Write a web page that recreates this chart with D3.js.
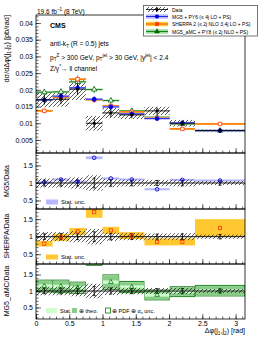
<!DOCTYPE html>
<html><head><meta charset="utf-8">
<script src="https://cdn.jsdelivr.net/npm/d3@7"></script>
<style>
body{margin:0;background:#fff;}
text{font-family:"Liberation Sans",Arial,sans-serif;fill:#000;}
</style></head><body>
<svg id="c" width="266" height="344"></svg>
<script>
// ---------- data ----------
const binEdges = [0, 0.25, 0.5, 0.75, 1.0, 1.25, 1.63, 2.01, 2.39, Math.PI];
const dataVals = [0.0170, 0.0172, 0.0202, 0.0100, 0.0131, 0.0125, 0.0137, 0.0100, 0.0078];
const dataStat = [0.0014, 0.0015, 0.0017, 0.0014, 0.0012, 0.0010, 0.0010, 0.0008, 0.0005];
const dataSystRel = [0.13, 0.13, 0.16, 0.22, 0.12, 0.10, 0.09, 0.10, 0.06];
const mg5Vals = [0.0170, 0.0181, 0.0206, 0.0172, 0.0149, 0.0128, 0.0114, 0.0101, 0.0078];
const sherpaVals = [0.0137, 0.0178, 0.0232, 0.0170, 0.0152, 0.0134, 0.0116, 0.0083, 0.0098];
const amcVals = [0.0193, 0.0194, 0.0224, 0.0201, 0.0168, 0.0137, 0.0118, 0.0098, 0.0078];
const mg5Ratio = [1.02, 1.10, 1.04, 1.72, 1.13, 1.10, 0.82, 1.09, 1.07];
const mg5RatioUnc = [0.03, 0.03, 0.03, 0.04, 0.03, 0.03, 0.03, 0.03, 0.03];
const sherpaRatio = [0.80, 0.98, 1.15, 1.70, 1.18, 1.03, 0.85, 0.85, 1.25];
const sherpaRatioUnc = [0.08, 0.1, 0.1, 0.16, 0.1, 0.1, 0.1, 0.1, 0.25];
const amcRatio = [1.15, 1.14, 1.10, 2.0, 1.27, 1.12, 0.88, 0.98, 1.01];
const amcStatUnc = [0.05, 0.05, 0.05, 0.08, 0.05, 0.05, 0.05, 0.05, 0.04];
const amcTheoUnc = [0.16, 0.17, 0.15, 0.2, 0.2, 0.15, 0.13, 0.13, 0.14];
const amcPdfUnc = [0.18, 0.19, 0.17, 0.22, 0.22, 0.17, 0.15, 0.15, 0.16];
const xTicks = [0, 0.5, 1, 1.5, 2, 2.5, 3];
const yTicksMain = [0.005, 0.01, 0.015, 0.02, 0.025, 0.03, 0.035, 0.04];
const ratioTicks = [0.5, 1, 1.5];
const legendLabels = ["Data", "MG5 + PY6 (\u2264 4j LO + PS)", "SHERPA 2 (\u2264 2j NLO 3,4j LO + PS)", "MG5_aMC + PY8 (\u2264 2j NLO + PS)"];

// ---------- colors ----------
const C = {blue:"#0000dd", blueBand:"#b8b8ff", red:"#ff3300", orangeBand:"#ffc830",
           green:"#006600", greenStat:"#ccffcc", greenTheo:"#88cc88", greenPdf:"#228822"};

const svg = d3.select("#c");
const defs = svg.append("defs");
const pat = defs.append("pattern").attr("id","hatch").attr("patternUnits","userSpaceOnUse")
  .attr("width",4).attr("height",4);
pat.append("path").attr("d","M-1,1 L1,-1 M0,4 L4,0 M3,5 L5,3").attr("stroke","#222").attr("stroke-width",0.75);

const L = 36, R = 245;
const x = d3.scaleLinear().domain([0, Math.PI]).range([L, R]);
const panels = {
  main: {top:15, bot:153},
  r1: {top:153, bot:209},
  r2: {top:209, bot:264},
  r3: {top:264, bot:319}
};
const yMain = d3.scaleLinear().domain([0.0011, 0.0424]).range([153, 15]);
const yR1 = d3.scaleLinear().domain([0.257, 1.857]).range([209, 153]);
const yR2 = d3.scaleLinear().domain([0.22, 1.79]).range([264, 209]);
const yR3 = d3.scaleLinear().domain([0.15, 1.82]).range([319, 264]);

const bins = d3.range(dataVals.length).map(i => ({i, lo:binEdges[i], hi:binEdges[i+1], c:(binEdges[i]+binEdges[i+1])/2}));

function clipFor(name, top, bot){
  defs.append("clipPath").attr("id","clip-"+name).append("rect").attr("x",L).attr("y",top).attr("width",R-L).attr("height",bot-top);
  return svg.append("g").attr("clip-path","url(#clip-"+name+")");
}

function drawYAxis(y, majors, minorStep, fmt){
  const g = svg.append("g");
  const dom = y.domain();
  const minors = d3.range(Math.ceil(dom[0]/minorStep)*minorStep, dom[1], minorStep);
  g.append("g").attr("transform",`translate(${L},0)`).call(d3.axisRight(y).tickValues(minors).tickSize(2.5).tickFormat(""));
  g.append("g").attr("transform",`translate(${L},0)`).call(d3.axisRight(y).tickValues(majors).tickSize(5).tickFormat(""));
  g.selectAll(".domain").remove();
  g.selectAll("line").attr("stroke","#000").attr("stroke-width",0.6);
  const gl = g.append("g").attr("transform",`translate(${L},0)`).call(d3.axisLeft(y).tickValues(majors).tickSize(0).tickPadding(3).tickFormat(fmt));
  gl.select(".domain").remove();
  gl.selectAll("text").attr("font-size",7).attr("font-family","Liberation Sans, Arial, sans-serif");
}
function drawXTicks(yPos){
  const g = svg.append("g").attr("transform",`translate(0,${yPos})`);
  const minors = d3.range(0, Math.PI, 0.1);
  g.append("g").call(d3.axisTop(x).tickValues(minors).tickSize(2.5).tickFormat(""));
  g.append("g").call(d3.axisTop(x).tickValues(xTicks).tickSize(5).tickFormat(""));
  g.selectAll(".domain").remove();
  g.selectAll("line").attr("stroke","#000").attr("stroke-width",0.6);
}

// ---------- MAIN PANEL ----------
const gm = clipFor("main", panels.main.top, panels.main.bot);
gm.selectAll(".hb").data(bins).join("rect")
  .attr("x", d=>x(d.lo)).attr("width", d=>x(d.hi)-x(d.lo))
  .attr("y", d=>yMain(dataVals[d.i]*(1+dataSystRel[d.i])))
  .attr("height", d=>yMain(dataVals[d.i]*(1-dataSystRel[d.i]))-yMain(dataVals[d.i]*(1+dataSystRel[d.i])))
  .attr("fill","url(#hatch)");
function mcMain(vals, color, band, marker, filled){
  gm.selectAll(null).data(bins).join("rect")
    .attr("x", d=>x(d.lo)).attr("width", d=>x(d.hi)-x(d.lo))
    .attr("y", d=>yMain(vals[d.i])-1).attr("height",2).attr("fill",band);
  gm.selectAll(null).data(bins).join("line")
    .attr("x1", d=>x(d.lo)).attr("x2", d=>x(d.hi))
    .attr("y1", d=>yMain(vals[d.i])).attr("y2", d=>yMain(vals[d.i]))
    .attr("stroke",color).attr("stroke-width",0.8);
  gm.selectAll(null).data(bins).join("line")
    .attr("x1", d=>x(d.c)).attr("x2", d=>x(d.c))
    .attr("y1", d=>yMain(vals[d.i]*1.05)).attr("y2", d=>yMain(vals[d.i]*0.95))
    .attr("stroke",color).attr("stroke-width",0.8);
  gm.selectAll(null).data(bins).join("path")
    .attr("transform", d=>`translate(${x(d.c)},${yMain(vals[d.i])})`)
    .attr("d", d3.symbol().type(marker).size(12)).attr("fill",filled?color:"#fff").attr("stroke",color).attr("stroke-width",0.8);
}
mcMain(amcVals, C.green, "#9fdf9f", d3.symbolTriangle, false);
mcMain(sherpaVals, C.red, C.orangeBand, d3.symbolSquare, false);
mcMain(mg5Vals, C.blue, C.blueBand, d3.symbolCircle, true);
gm.selectAll(".dx").data(bins).join("line")
  .attr("x1", d=>x(d.lo)).attr("x2", d=>x(d.hi))
  .attr("y1", d=>yMain(dataVals[d.i])).attr("y2", d=>yMain(dataVals[d.i]))
  .attr("stroke","#000").attr("stroke-width",0.9);
gm.selectAll(".dy").data(bins).join("line")
  .attr("x1", d=>x(d.c)).attr("x2", d=>x(d.c))
  .attr("y1", d=>yMain(dataVals[d.i]+dataStat[d.i])).attr("y2", d=>yMain(dataVals[d.i]-dataStat[d.i]))
  .attr("stroke","#000").attr("stroke-width",0.9);
gm.selectAll(".dp").data(bins).join("circle")
  .attr("cx", d=>x(d.c)).attr("cy", d=>yMain(dataVals[d.i])).attr("r",1.6).attr("fill","#000");

drawYAxis(yMain, yTicksMain, 0.001, d3.format(""));

// ---------- RATIO PANELS ----------
function dataBandRatio(g, y){
  g.selectAll(null).data(bins).join("rect")
    .attr("x", d=>x(d.lo)).attr("width", d=>x(d.hi)-x(d.lo))
    .attr("y", d=>y(1+dataSystRel[d.i])).attr("height", d=>y(1-dataSystRel[d.i])-y(1+dataSystRel[d.i]))
    .attr("fill","url(#hatch)");
  g.append("line").attr("x1",L).attr("x2",R).attr("y1",y(1)).attr("y2",y(1)).attr("stroke","#000").attr("stroke-width",0.9);
  g.selectAll(null).data(bins).join("line")
    .attr("x1", d=>x(d.c)).attr("x2", d=>x(d.c))
    .attr("y1", d=>y(1+dataStat[d.i]/dataVals[d.i])).attr("y2", d=>y(1-dataStat[d.i]/dataVals[d.i]))
    .attr("stroke","#000").attr("stroke-width",0.9);
  g.selectAll(null).data(bins).join("path")
    .attr("d", d=>{const xc=x(d.c), a=y(1+dataStat[d.i]/dataVals[d.i]), b=y(1-dataStat[d.i]/dataVals[d.i]);
      return `M${xc-1.5},${a}H${xc+1.5}M${xc-1.5},${b}H${xc+1.5}`;})
    .attr("stroke","#000").attr("stroke-width",0.8);
}
const g1 = clipFor("r1", panels.r1.top, panels.r1.bot);
g1.selectAll(null).data(bins).join("rect")
  .attr("x", d=>x(d.lo)).attr("width", d=>x(d.hi)-x(d.lo))
  .attr("y", d=>yR1(mg5Ratio[d.i]+mg5RatioUnc[d.i])).attr("height", d=>yR1(mg5Ratio[d.i]-mg5RatioUnc[d.i])-yR1(mg5Ratio[d.i]+mg5RatioUnc[d.i]))
  .attr("fill",C.blueBand);
dataBandRatio(g1, yR1);
g1.selectAll(null).data(bins).join("circle")
  .attr("cx", d=>x(d.c)).attr("cy", d=>yR1(mg5Ratio[d.i])).attr("r",1.8)
  .attr("fill","none").attr("stroke",C.blue).attr("stroke-width",0.9);
const g2 = clipFor("r2", panels.r2.top, panels.r2.bot);
g2.selectAll(null).data(bins).join("rect")
  .attr("x", d=>x(d.lo)).attr("width", d=>x(d.hi)-x(d.lo))
  .attr("y", d=>yR2(sherpaRatio[d.i]+sherpaRatioUnc[d.i])).attr("height", d=>yR2(sherpaRatio[d.i]-sherpaRatioUnc[d.i])-yR2(sherpaRatio[d.i]+sherpaRatioUnc[d.i]))
  .attr("fill",C.orangeBand);
dataBandRatio(g2, yR2);
g2.selectAll(null).data(bins).join("rect")
  .attr("x", d=>x(d.c)-1.6).attr("y", d=>yR2(sherpaRatio[d.i])-1.6).attr("width",3.2).attr("height",3.2)
  .attr("fill","none").attr("stroke",C.red).attr("stroke-width",0.8);
const g3 = clipFor("r3", panels.r3.top, panels.r3.bot);
function amcBox(unc, fill, stroke){
  g3.selectAll(null).data(bins).join("rect")
    .attr("x", d=>x(d.lo)+0.5).attr("width", d=>x(d.hi)-x(d.lo)-1)
    .attr("y", d=>yR3(amcRatio[d.i]+unc[d.i])).attr("height", d=>yR3(amcRatio[d.i]-unc[d.i])-yR3(amcRatio[d.i]+unc[d.i]))
    .attr("fill",fill).attr("stroke",stroke).attr("stroke-width",stroke==="none"?0:1);
}
amcBox(amcPdfUnc, "none", C.greenPdf);
amcBox(amcTheoUnc, C.greenTheo, "none");
amcBox(amcStatUnc, C.greenStat, "none");
dataBandRatio(g3, yR3);
g3.selectAll(null).data(bins).join("path")
  .attr("transform", d=>`translate(${x(d.c)},${yR3(amcRatio[d.i])})`)
  .attr("d", d3.symbol().type(d3.symbolTriangle).size(10)).attr("fill","none").attr("stroke",C.green).attr("stroke-width",0.7);

drawYAxis(yR1, ratioTicks, 0.1, d3.format(""));
drawYAxis(yR2, ratioTicks, 0.1, d3.format(""));
drawYAxis(yR3, ratioTicks, 0.1, d3.format(""));
[153, 209, 264, 319].forEach(drawXTicks);
svg.append("g").attr("transform","translate(0,319)").call(g=>{
  const gl = g.append("g").call(d3.axisBottom(x).tickValues(xTicks).tickSize(0).tickPadding(2).tickFormat(d3.format("")));
  gl.select(".domain").remove();
  gl.selectAll("text").attr("font-size",7).attr("font-family","Liberation Sans, Arial, sans-serif");
});

[panels.main, panels.r1, panels.r2, panels.r3].forEach(p=>{
  svg.append("rect").attr("x",L).attr("y",p.top).attr("width",R-L).attr("height",p.bot-p.top)
    .attr("fill","none").attr("stroke","#000").attr("stroke-width",0.8);
});

// ---------- texts ----------
const lumi = svg.append("text").attr("x",37).attr("y",13.5).attr("font-size",6.5);
lumi.append("tspan").text("19.6 fb");
lumi.append("tspan").attr("dy",-2.5).attr("font-size",4.6).text("\u22121");
lumi.append("tspan").attr("dy",2.5).text(" (8 TeV)");
svg.append("text").attr("x",50).attr("y",27.5).attr("font-size",7).attr("font-weight","bold").text("CMS");
const fs = 6.6, fss = 4.6;
const t1 = svg.append("text").attr("x",50).attr("y",46).attr("font-size",fs);
t1.append("tspan").text("anti-k");
t1.append("tspan").attr("dy",1.5).attr("font-size",fss).text("T");
t1.append("tspan").attr("dy",-1.5).text(" (R = 0.5) jets");
const t2 = svg.append("text").attr("x",50).attr("y",59.5).attr("font-size",fs);
t2.append("tspan").text("p");
t2.append("tspan").attr("dy",1.5).attr("font-size",fss).text("T");
t2.append("tspan").attr("dy",-3.8).attr("font-size",fss).text("Z");
t2.append("tspan").attr("dy",2.3).text(" > 300 GeV, p");
t2.append("tspan").attr("dy",1.5).attr("font-size",fss).text("T");
t2.append("tspan").attr("dy",-3.8).attr("font-size",fss).text("jet");
t2.append("tspan").attr("dy",2.3).text(" > 30 GeV, |y");
t2.append("tspan").attr("dy",-2.3).attr("font-size",fss).text("jet");
t2.append("tspan").attr("dy",2.3).text("| < 2.4");
const t3 = svg.append("text").attr("x",50).attr("y",70.5).attr("font-size",fs);
t3.append("tspan").text("Z/\u03b3");
t3.append("tspan").attr("dy",-2.3).attr("font-size",fss).text("*");
t3.append("tspan").attr("dy",2.3).text("\u2192 ll channel");

function yTitle(xPos, yPos, anchor, size){
  return svg.append("text").attr("transform",`translate(${xPos},${yPos}) rotate(-90)`).attr("text-anchor",anchor).attr("font-size",size);
}
const yt = yTitle(9, 15, "end", 7.4);
yt.append("tspan").text("d\u03c3/d\u0394\u03c6(j");
yt.append("tspan").attr("dy",1.5).attr("font-size",5).text("1");
yt.append("tspan").attr("dy",-1.5).text(",j");
yt.append("tspan").attr("dy",1.5).attr("font-size",5).text("2");
yt.append("tspan").attr("dy",-1.5).text(")  [pb/rad]");
yTitle(9,181,"middle",7).text("MG5/Data");
yTitle(9,236,"middle",7).text("SHERPA/Data");
yTitle(9,291,"middle",7).text("MG5_aMC/Data");
const xt = svg.append("text").attr("x",245).attr("y",333).attr("text-anchor","end").attr("font-size",7);
xt.append("tspan").text("\u0394\u03c6(j");
xt.append("tspan").attr("dy",1.5).attr("font-size",4.8).text("1");
xt.append("tspan").attr("dy",-1.5).text(",j");
xt.append("tspan").attr("dy",1.5).attr("font-size",4.8).text("2");
xt.append("tspan").attr("dy",-1.5).text(") [rad]");

svg.append("rect").attr("x",46).attr("y",199.5).attr("width",12).attr("height",5).attr("fill",C.blueBand);
svg.append("text").attr("x",61).attr("y",204).attr("font-size",5.8).text("Stat. unc.");
svg.append("rect").attr("x",46).attr("y",254.5).attr("width",12).attr("height",5).attr("fill",C.orangeBand);
svg.append("text").attr("x",61).attr("y",259).attr("font-size",5.8).text("Stat. unc.");
svg.append("rect").attr("x",46).attr("y",308).attr("width",11).attr("height",5).attr("fill",C.greenStat);
svg.append("text").attr("x",60).attr("y",312.5).attr("font-size",5.5).text("Stat.");
svg.append("rect").attr("x",72).attr("y",308).attr("width",5).attr("height",5).attr("fill",C.greenTheo);
svg.append("text").attr("x",79).attr("y",312.5).attr("font-size",5.5).text("\u2295 theo.");
svg.append("rect").attr("x",105.5).attr("y",308).attr("width",5).attr("height",5).attr("fill","#fff").attr("stroke",C.greenPdf).attr("stroke-width",0.9);
const tp = svg.append("text").attr("x",112).attr("y",312.5).attr("font-size",5.5);
tp.append("tspan").text("\u2295 PDF \u2295 \u03b1");
tp.append("tspan").attr("dy",1.2).attr("font-size",4).text("s");
tp.append("tspan").attr("dy",-1.2).text(" unc.");

const lg = svg.append("g");
lg.append("rect").attr("x",143.5).attr("y",5.5).attr("width",114).attr("height",30.5).attr("fill","#fff").attr("stroke","#555").attr("stroke-width",0.8);
const rowsY = [9.5, 16.5, 24, 31.5];
legendLabels.forEach((lab,i)=>{
  lg.append("text").attr("x",172).attr("y",rowsY[i]+2).attr("font-size",5).text(lab);
});
lg.append("rect").attr("x",146).attr("y",rowsY[0]-2.5).attr("width",22).attr("height",5).attr("fill","url(#hatch)");
lg.append("line").attr("x1",146).attr("x2",168).attr("y1",rowsY[0]).attr("y2",rowsY[0]).attr("stroke","#000").attr("stroke-width",0.8);
lg.append("line").attr("x1",157).attr("x2",157).attr("y1",rowsY[0]-2.5).attr("y2",rowsY[0]+2.5).attr("stroke","#000").attr("stroke-width",0.8);
lg.append("circle").attr("cx",157).attr("cy",rowsY[0]).attr("r",1.5).attr("fill","#000");
const mcLeg = [[C.blueBand,C.blue,d3.symbolCircle],[C.orangeBand,C.red,d3.symbolSquare],["#99dd99",C.green,d3.symbolTriangle]];
mcLeg.forEach((m,k)=>{
  const yy = rowsY[k+1];
  lg.append("rect").attr("x",146).attr("y",yy-2.2).attr("width",22).attr("height",4.4).attr("fill",m[0]);
  lg.append("line").attr("x1",146).attr("x2",168).attr("y1",yy).attr("y2",yy).attr("stroke",m[1]).attr("stroke-width",0.8);
  lg.append("path").attr("transform",`translate(157,${yy})`).attr("d",d3.symbol().type(m[2]).size(10)).attr("fill",m[1]).attr("stroke",m[1]).attr("stroke-width",0.6);
});
</script>
</body></html>
